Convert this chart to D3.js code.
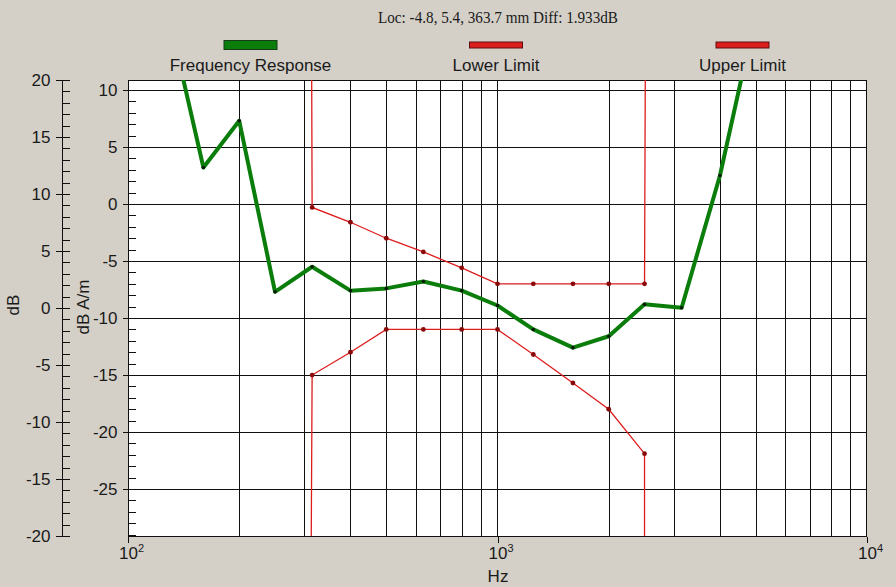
<!DOCTYPE html>
<html>
<head>
<meta charset="utf-8">
<script src="https://cdn.jsdelivr.net/npm/d3@7"></script>
<style>
  html, body { margin: 0; padding: 0; background: #d4d0c8; }
  svg { display: block; }
  text { font-family: "Liberation Sans", Arial, sans-serif; fill: #1a1a1a; }
</style>
</head>
<body>
<svg id="chart" width="896" height="587"></svg>
<script>
// ---------- data ----------
const title = "Loc: -4.8, 5.4, 363.7 mm Diff: 1.933dB";
const seriesNames = ["Frequency Response", "Lower Limit", "Upper Limit"];
const seriesColors = ["#0b7d0b", "#dd1c1c", "#dd1c1c"];

const responseFreqs = [125, 160, 200, 250, 315, 400, 500, 630, 800, 1000, 1250, 1600, 2000, 2500, 3150, 4000, 5000];
const responseValues = [18.4, 3.2, 7.3, -7.7, -5.5, -7.6, -7.4, -6.8, -7.6, -8.9, -11.0, -12.6, -11.6, -8.8, -9.1, 2.5, 16.7];

const limitFreqs = [315, 400, 500, 630, 800, 1000, 1250, 1600, 2000, 2500];
const lowerLimit = [-15.0, -13.0, -11.0, -11.0, -11.0, -11.0, -13.2, -15.7, -18.0, -21.9];
const upperLimit = [-0.3, -1.6, -3.0, -4.2, -5.6, -7.0, -7.0, -7.0, -7.0, -7.0];
// off-scale end points of the limit lines (drawn as near-vertical edges)
const lowerTails = [[312, -40], [2500, -40]];
const upperTails = [[312, 40], [2530, 40]];

const xTickValues = [100, 1000, 10000];
const xTickExponents = ["2", "3", "4"];
const innerMajorTicks = [-25, -20, -15, -10, -5, 0, 5, 10];
const outerMajorTicks = [-20, -15, -10, -5, 0, 5, 10, 15, 20];
const innerDomain = [-29.12, 10.88];
const outerDomain = [-20, 20];
const xDomain = [100, 10000];

// ---------- layout ----------
const L = 128, R = 867, T = 80, B = 536;
const FS = "17px";
const svg = d3.select("#chart");
svg.append("rect").attr("width", 896).attr("height", 587).attr("fill", "#d4d0c8");

const x = d3.scaleLog().domain(xDomain).range([L, R]);
const yIn = d3.scaleLinear().domain(innerDomain).range([B, T]);
const yOut = d3.scaleLinear().domain(outerDomain).range([B, T]);

// plot background
svg.append("rect").attr("x", L).attr("y", T).attr("width", R - L).attr("height", B - T).attr("fill", "#ffffff");

svg.append("defs").append("clipPath").attr("id", "clip")
  .append("rect").attr("x", L).attr("y", T).attr("width", R - L).attr("height", B - T);

// grid
const grid = svg.append("g").attr("shape-rendering", "crispEdges").attr("stroke", "#101010").attr("stroke-width", 1);
const vGrid = x.ticks().filter(v => v > xDomain[0] && v < xDomain[1]);
grid.selectAll("line.v").data(vGrid).join("line")
  .attr("x1", d => Math.round(x(d)) + 0.5).attr("x2", d => Math.round(x(d)) + 0.5)
  .attr("y1", T).attr("y2", B);
grid.selectAll("line.h").data(innerMajorTicks).join("line")
  .attr("x1", L).attr("x2", R)
  .attr("y1", d => Math.round(yIn(d)) + 0.5).attr("y2", d => Math.round(yIn(d)) + 0.5);

const fmt = d => String(d);

// inner axis (dB A/m) on plot's left edge
const innerAxis = d3.axisLeft(yIn).tickValues(innerMajorTicks).tickSize(6).tickPadding(5).tickFormat(fmt);
const gIn = svg.append("g").attr("transform", `translate(${L + 0.5},0)`).call(innerAxis);
gIn.select(".domain").remove();
gIn.selectAll("line").attr("stroke", "#101010").attr("shape-rendering", "crispEdges");
gIn.selectAll("text").style("font-size", FS).attr("fill", "#1a1a1a");
// minor ticks inside
const innerMinor = d3.range(Math.ceil(innerDomain[0]), Math.floor(innerDomain[1]) + 1);
svg.append("g").attr("shape-rendering", "crispEdges").selectAll("line").data(innerMinor).join("line")
  .attr("x1", L).attr("x2", L + 8)
  .attr("y1", d => Math.round(yIn(d)) + 0.5).attr("y2", d => Math.round(yIn(d)) + 0.5)
  .attr("stroke", "#101010");

// outer axis (dB)
const OX = 62;
const outerAxis = d3.axisLeft(yOut).tickValues(outerMajorTicks).tickSize(7).tickPadding(5).tickFormat(fmt);
const gOut = svg.append("g").attr("transform", `translate(${OX + 0.5},0)`).call(outerAxis);
gOut.select(".domain").remove();
gOut.selectAll("line").attr("stroke", "#101010").attr("shape-rendering", "crispEdges");
gOut.selectAll("text").style("font-size", FS).attr("fill", "#1a1a1a");
svg.append("line").attr("x1", OX + 0.5).attr("x2", OX + 0.5).attr("y1", T).attr("y2", B + 1)
  .attr("stroke", "#101010").attr("shape-rendering", "crispEdges");
const outerMinor = d3.range(outerDomain[0], outerDomain[1] + 1);
svg.append("g").attr("shape-rendering", "crispEdges").selectAll("line").data(outerMinor).join("line")
  .attr("x1", OX).attr("x2", OX + 8)
  .attr("y1", d => Math.round(yOut(d)) + 0.5).attr("y2", d => Math.round(yOut(d)) + 0.5)
  .attr("stroke", "#101010");

// x axis
const xAxis = d3.axisBottom(x).tickValues(xTickValues).tickSize(6).tickFormat("");
const gX = svg.append("g").attr("transform", `translate(0,${B + 0.5})`).call(xAxis);
gX.select(".domain").remove();
gX.selectAll("line").attr("stroke", "#101010").attr("shape-rendering", "crispEdges");
const xl = svg.append("g").selectAll("text").data(xTickValues).join("text")
  .attr("x", d => x(d) - 9).attr("y", 559).style("font-size", FS);
xl.append("tspan").text("10");
xl.append("tspan").attr("dy", -7).style("font-size", "11px").text((d, i) => xTickExponents[i]);

svg.append("text").attr("x", 498).attr("y", 582).attr("text-anchor", "middle").style("font-size", FS).text("Hz");

// axis titles
svg.append("text").attr("transform", "translate(19,305) rotate(-90)").attr("text-anchor", "middle")
  .style("font-size", FS).text("dB");
svg.append("text").attr("transform", "translate(89,307) rotate(-90)").attr("text-anchor", "middle")
  .style("font-size", FS).text("dB A/m");

// plot border
svg.append("rect").attr("x", L + 0.5).attr("y", T + 0.5).attr("width", R - L - 1).attr("height", B - T)
  .attr("fill", "none").attr("stroke", "#101010").attr("shape-rendering", "crispEdges");

// series
const plot = svg.append("g").attr("clip-path", "url(#clip)");
const line = d3.line().x(d => x(d[0])).y(d => yIn(d[1]));

function drawLimit(vals, tails, color) {
  const pts = limitFreqs.map((f, i) => [f, vals[i]]);
  const all = [tails[0], ...pts, tails[1]];
  plot.append("path").attr("d", line(all)).attr("fill", "none").attr("stroke", color).attr("stroke-width", 1.3);
  plot.append("g").selectAll("circle").data(pts).join("circle")
    .attr("cx", d => x(d[0])).attr("cy", d => yIn(d[1])).attr("r", 2.4).attr("fill", "#8a0a0a");
}
drawLimit(lowerLimit, lowerTails, seriesColors[1]);
drawLimit(upperLimit, upperTails, seriesColors[2]);

const resp = responseFreqs.map((f, i) => [f, responseValues[i]]);
plot.append("path").attr("d", line(resp)).attr("fill", "none").attr("stroke", seriesColors[0])
  .attr("stroke-width", 4).attr("stroke-linejoin", "round");
plot.append("g").selectAll("circle").data(resp).join("circle")
  .attr("cx", d => x(d[0])).attr("cy", d => yIn(d[1])).attr("r", 1.8).attr("fill", "#0a1a0a");

// title
svg.append("text").attr("x", 498).attr("y", 23).attr("text-anchor", "middle")
  .style("font-family", "'Liberation Serif', 'Times New Roman', serif").style("font-size", "16px")
  .attr("textLength", 240).attr("lengthAdjust", "spacingAndGlyphs")
  .text(title);

// legend
const legX = [250.5, 496, 742.5];
const legH = [9, 6, 6];
const lg = svg.append("g").selectAll("g").data(seriesNames).join("g");
lg.append("rect")
  .attr("x", (d, i) => legX[i] - 26.5).attr("y", (d, i) => 45 - legH[i] / 2)
  .attr("width", 53).attr("height", (d, i) => legH[i])
  .attr("fill", (d, i) => seriesColors[i]).attr("stroke", (d, i) => i === 0 ? "#173d17" : "#5a1010").attr("stroke-width", 1);
lg.append("text").attr("x", (d, i) => legX[i]).attr("y", 71).attr("text-anchor", "middle")
  .style("font-size", FS).text(d => d);
</script>
</body>
</html>
